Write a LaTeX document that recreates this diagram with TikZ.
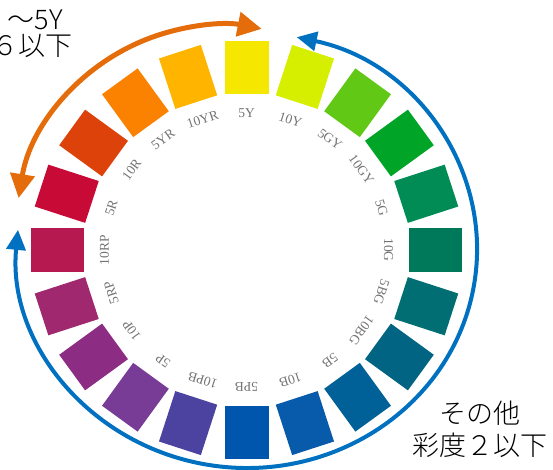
\documentclass[tikz,border=0pt]{standalone}
\usepackage{fontspec}
\setmainfont{Liberation Serif}
\newfontfamily\jpfont{Noto Sans CJK JP}[UprightFont={* Light}]
\usetikzlibrary{arrows.meta}

\definecolor{m5Y}{RGB}{246,231,0}
\definecolor{m10Y}{RGB}{214,238,0}
\definecolor{m5GY}{RGB}{98,200,22}
\definecolor{m10GY}{RGB}{0,165,40}
\definecolor{m5G}{RGB}{0,140,84}
\definecolor{m10G}{RGB}{0,120,90}
\definecolor{m5BG}{RGB}{0,110,114}
\definecolor{m10BG}{RGB}{0,100,130}
\definecolor{m5B}{RGB}{0,96,152}
\definecolor{m10B}{RGB}{8,90,170}
\definecolor{m5PB}{RGB}{0,86,172}
\definecolor{m10PB}{RGB}{76,66,160}
\definecolor{m5P}{RGB}{120,60,150}
\definecolor{m10P}{RGB}{140,44,130}
\definecolor{m5RP}{RGB}{160,40,110}
\definecolor{m10RP}{RGB}{182,24,80}
\definecolor{m5R}{RGB}{200,10,55}
\definecolor{m10R}{RGB}{220,66,10}
\definecolor{m5YR}{RGB}{250,130,0}
\definecolor{m10YR}{RGB}{255,180,0}
\definecolor{warmline}{RGB}{228,108,10}
\definecolor{coolline}{RGB}{0,112,192}

\tikzset{
  chip/.style={rectangle,inner sep=0pt,minimum width=53pt,minimum height=44pt},
  hue/.style={inner sep=0pt,text=black!55,font=\fontsize{13.5}{13.5}\selectfont},
  warm/.style={line width=5pt,draw=warmline,{Triangle[length=24pt,width=24pt]}-{Triangle[length=24pt,width=24pt]}},
  cool/.style={line width=4pt,draw=coolline,{Triangle[length=20pt,width=19pt]}-{Triangle[length=20pt,width=19pt]}},
  note/.style={inner sep=0pt,font=\jpfont\fontsize{27}{32}\selectfont}
}

\begin{document}
\begin{tikzpicture}[x=1pt,y=1pt]
\useasboundingbox (-246.5,-220) rectangle (306.5,250);

\foreach \ang/\hue in {90/5Y,72/10Y,54/5GY,36/10GY,18/5G,0/10G,-18/5BG,-36/10BG,-54/5B,-72/10B,
  -90/5PB,-108/10PB,-126/5P,-144/10P,-162/5RP,180/10RP,162/5R,144/10R,126/5YR,108/10YR}{
  \node[chip,fill=m\hue,rotate=\ang] at (\ang:189 and 182) (chip\hue) {};
  \node[hue,rotate=\ang-90] at (\ang:142 and 137) (lab\hue) {\hue};
}

\coordinate (wc) at (-24.5,19);
\coordinate (warmA) at ([shift={(170.8:206)}]wc);
\draw[warm] (warmA) arc[start angle=170.8,end angle=78.9,radius=206];

\coordinate (bc) at (0.5,0);
\coordinate (coolA) at ([shift={(77.5:230 and 218)}]bc);
\draw[cool] (coolA) arc[start angle=77.5,end angle=-185.3,x radius=230,y radius=218];

\node[note,anchor=base east] at (-183.5,220) (warm1) {～5Y};
\node[note,anchor=base east] at (-173.5,194) (warm2) {６以下};
\node[note,anchor=base] at (233,-173) (cool1) {その他};
\node[note,anchor=base] at (233,-205) (cool2) {彩度２以下};
\end{tikzpicture}
\end{document}
